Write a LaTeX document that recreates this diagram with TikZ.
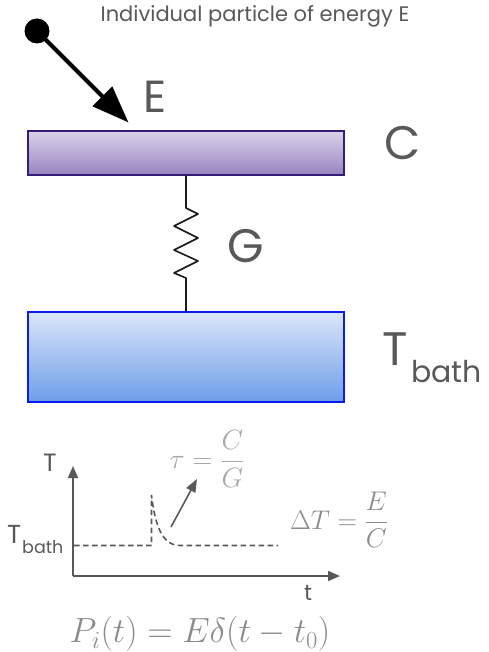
\RequirePackage{fix-cm}
\documentclass[tikz,border=0pt]{standalone}
\usepackage{amsmath}
\usepackage{fontspec}
\setmainfont{Poppins}
\usetikzlibrary{arrows.meta}
\definecolor{txt}{HTML}{595959}
\definecolor{purpleline}{HTML}{351C75}
\definecolor{purpletop}{HTML}{D9D2E9}
\definecolor{purplebot}{HTML}{9883BE}
\definecolor{blueline}{HTML}{0B1BEE}
\definecolor{bluetop}{HTML}{DCE6FA}
\definecolor{bluebot}{HTML}{6D9EE8}
\definecolor{eqlight}{HTML}{A8A8A8}
\definecolor{eqmid}{HTML}{8C8C8C}
\tikzset{
 lbl/.style={text=txt,inner sep=0pt},
 barbox/.style={line width=1.2pt,minimum width=316pt,inner sep=0pt},
 axisline/.style={draw=txt,line width=1.8pt,-{Triangle[length=12pt,width=10pt]}},
 dashline/.style={draw=txt,line width=1.6pt,dash pattern=on 5.5pt off 3.5pt},
 thinarrow/.style={draw=txt,line width=1.6pt,-{Triangle[length=13pt,width=10pt]}},
 wire/.style={draw=black!90,line width=1.6pt,line join=round},
}
\newcommand{\fsz}[1]{\fontsize{#1}{#1}\selectfont}
\begin{document}
\begin{tikzpicture}[x=1pt,y=-1pt]
\useasboundingbox (0,0) rectangle (488,652);
% bars
\node[barbox,draw=purpleline,top color=purpletop,bottom color=purplebot,minimum height=44pt] (cap) at (186,153) {};
\node[barbox,draw=blueline,top color=bluetop,bottom color=bluebot,minimum height=90pt] (bath) at (186,357) {};
% particle
\node[circle,fill=black,minimum size=25pt,inner sep=0pt] (particle) at (37,31) {};
\coordinate (hit) at (128.5,122.5);
\draw[line width=4.2pt,-{Triangle[length=37pt,width=27pt]}] (particle.center) -- (hit);
% resistor
\draw[wire] (cap.south) -- (186,208) -- (198,214) -- (174,226) -- (198,238) -- (174,250) -- (198,261) -- (174,273) -- (186,278) -- (bath.north);
% labels
\node[lbl,font=\fsz{21}] (title) at (255,16) {Individual particle of energy E};
\node[lbl,font=\fsz{45}] (lE) at (155,97) {E};
\node[lbl,font=\fsz{47}] (lC) at (403,143) {C};
\node[lbl,font=\fsz{47}] (lG) at (246,246) {G};
\node[lbl,font=\fsz{47},anchor=base west] (lT) at (382,365) {T};
\node[lbl,font=\fsz{30},anchor=base west] (lTs) at (411,382) {bath};
% graph
\coordinate (origin) at (73,576);
\coordinate (ytip) at (73,466);
\coordinate (xtip) at (340,576);
\draw[axisline] (origin) -- (ytip);
\draw[axisline] (origin) -- (xtip);
\node[lbl,font=\fsz{25}] (axT) at (50,463) {T};
\node[lbl,font=\fsz{22}] (axt) at (308,593) {t};
\node[lbl,font=\fsz{26},anchor=base west] (tb) at (7,543) {T};
\node[lbl,font=\fsz{17.5},anchor=base west] (tbs) at (22,553) {bath};
\coordinate (d0) at (74,545.5);
\coordinate (d1) at (151.5,545.5);
\coordinate (d2) at (151.5,495);
\coordinate (d3) at (180,545.5);
\coordinate (d4) at (278,545.5);
\draw[dashline] (d0) -- (d1) -- (d2) .. controls (155,525) and (162,545.5) .. (d3) -- (d4);
\coordinate (a0) at (171,527);
\coordinate (a1) at (197,479);
\draw[thinarrow] (a0) -- (a1);
% equations
\node[inner sep=0pt,text=eqlight,font=\fsz{28}] (tau) at (207,459) {$\tau=\dfrac{C}{G}$};
\node[inner sep=0pt,text=eqmid,font=\fsz{27}] (dT) at (339,520) {$\Delta T=\dfrac{E}{C}$};
\node[inner sep=0pt,text=eqmid,font=\fsz{35}] (pow) at (200,634) {$P_i(t)=E\delta(t-t_0)$};
\end{tikzpicture}
\end{document}
